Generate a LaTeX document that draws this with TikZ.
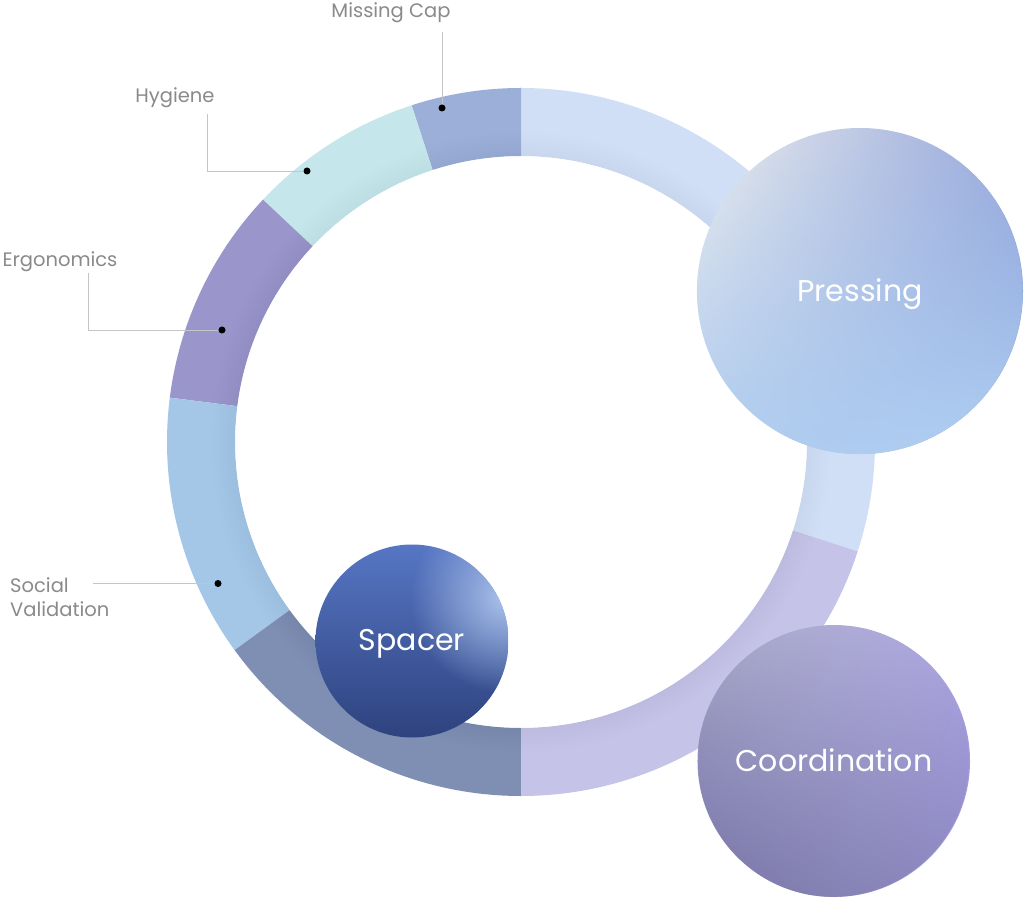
\documentclass[tikz,border=0pt]{standalone}
\usepackage{fontspec}
\setmainfont{Poppins}
\usetikzlibrary{fadings}
\definecolor{RingMiss}{HTML}{9BAFD9}
\definecolor{RingHyg}{HTML}{C5E6EA}
\definecolor{RingErg}{HTML}{9A96CB}
\definecolor{RingSoc}{HTML}{A4C6E7}
\definecolor{RingSlate}{HTML}{7F8FB3}
\definecolor{RingLav}{HTML}{C5C3E8}
\definecolor{RingPress}{HTML}{D0DFF5}
\definecolor{LabelGray}{HTML}{8A8A8A}
\definecolor{LeaderGray}{HTML}{C4C4CA}
\definecolor{PrWhite}{HTML}{DFE4EC}
\definecolor{PrPurple}{HTML}{8799D6}
\definecolor{PrBlue}{HTML}{AECDF1}
\definecolor{CoGray}{HTML}{BBBCD8}
\definecolor{CoPurple}{HTML}{A39CDC}
\definecolor{CoDark}{HTML}{7C79AB}
\definecolor{SpTop}{HTML}{5676C4}
\definecolor{SpMid}{HTML}{4862A8}
\definecolor{SpBot}{HTML}{2E427E}
\definecolor{SpHi}{HTML}{B4CBF0}
\tikzfading[name=fadeup, bottom color=transparent!0, middle color=transparent!30, top color=transparent!100]
\tikzfading[name=glow, inner color=transparent!0, outer color=transparent!100]
\newcommand{\ringseg}[3]{\fill[#1] (#2:354) arc[start angle=#2, end angle=#3, radius=354] -- (#3:286) arc[start angle=#3, end angle=#2, radius=286] -- cycle;}
\tikzset{
  labeltext/.style={text=LabelGray, font=\fontsize{19.5}{23.4}\selectfont, inner sep=0pt},
  oneline/.style={text height=14pt, text depth=0pt},
  leader/.style={draw=LeaderGray, line width=0.9pt},
  dotmark/.style={circle, fill=black, inner sep=0pt, minimum size=7pt},
  bubble/.style={circle, inner sep=0pt, text=white, font=\fontsize{30}{34}\selectfont, text height=21pt, text depth=0pt}
}
\begin{document}
\begin{tikzpicture}[x=1pt,y=1pt]
\useasboundingbox (0,0) rectangle (1024,898);
\fill[white] (0,0) rectangle (1024,898);
% ring
\begin{scope}[shift={(521,456)}]
  \ringseg{RingPress}{342}{450}
  \ringseg{RingMiss}{90}{108}
  \ringseg{RingHyg}{108}{136.8}
  \ringseg{RingErg}{136.8}{172.8}
  \ringseg{RingSoc}{172.8}{216}
  \ringseg{RingSlate}{216}{270}
  \ringseg{RingLav}{270}{342}
  \begin{scope}[even odd rule]
    \clip (0,0) circle (354) (0,0) circle (286);
    \foreach \w in {6,12,...,48} {\draw[black, opacity=0.005, line width=\w pt] (0,0) circle (286);}
  \end{scope}
\end{scope}
% Pressing bubble
\coordinate (pc) at (860,607);
\shade[left color=PrWhite, right color=PrPurple, shading angle=75] (pc) circle (163);
\fill[PrBlue, path fading=fadeup, fading angle=10] (pc) circle (163);
\node[bubble, minimum size=326pt] (press) at (pc) {Pressing};
% Coordination bubble
\coordinate (cc) at (834,137);
\shade[left color=CoGray, right color=CoPurple, shading angle=75] (cc) circle (136);
\fill[CoDark, path fading=fadeup, fading angle=-35, fill opacity=0.9] (cc) circle (136);
\node[bubble, minimum size=272pt] (coord) at (cc) {Coordination};
% Spacer bubble
\coordinate (sc) at (412,257);
\shade[top color=SpTop, middle color=SpMid, bottom color=SpBot] (sc) circle (96.5);
\begin{scope}
  \clip (sc) circle (96.5);
  \fill[SpHi, path fading=glow, fill opacity=0.9] (505,300) circle (95);
\end{scope}
\node[bubble, minimum size=193pt] (spacer) at (412,258.5) {Spacer};
% labels
\node[labeltext, oneline] (lmiss) at (391,887.7) {Missing Cap};
\node[dotmark] (dmiss) at (442,790) {};
\coordinate (tmiss) at (442,866);
\draw[leader] (tmiss) -- (dmiss.north);

\node[labeltext, oneline] (lhyg) at (175,802.5) {Hygiene};
\coordinate (thyg) at (207,784);
\node[dotmark] (dhyg) at (307,727) {};
\draw[leader] (thyg) |- (dhyg.west);

\node[labeltext, oneline] (lerg) at (60,638.8) {Ergonomics};
\coordinate (terg) at (88,625);
\node[dotmark] (derg) at (222,568) {};
\draw[leader] (terg) |- (derg.west);

\node[labeltext, align=left, anchor=west] (lsoc) at (10,301) {Social\\Validation};
\coordinate (tsoc) at (93,314.5);
\node[dotmark] (dsoc) at (218,314.5) {};
\draw[leader] (tsoc) -- (dsoc.west);
\end{tikzpicture}
\end{document}
